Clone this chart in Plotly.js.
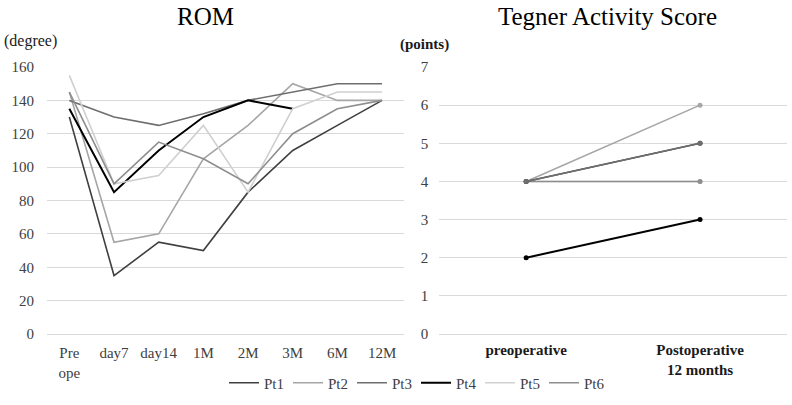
<!DOCTYPE html>
<html><head><meta charset="utf-8">
<script src="https://cdn.plot.ly/plotly-3.0.1.min.js"></script>
<style>html,body{margin:0;padding:0;background:#fff}#chart{width:792px;height:405px}</style>
</head><body><div id="chart"></div>
<script>
const romCategories = ['Pre<br>ope','day7','day14','1M','2M','3M','6M','12M'];
const patients = ['Pt1','Pt2','Pt3','Pt4','Pt5','Pt6'];
const romPt1 = [130, 35, 55, 50, 85, 110, 125, 140];
const romPt2 = [145, 55, 60, 105, 125, 150, 140, 140];
const romPt3 = [140, 130, 125, 132, 140, 145, 150, 150];
const romPt4 = [135, 85, 110, 130, 140, 135, null, null];
const romPt5 = [155, 90, 95, 125, 85, 135, 145, 145];
const romPt6 = [145, 90, 115, 105, 90, 120, 135, 140];
const tegnerCategories = ['preoperative', 'Postoperative<br>12 months'];
const tegPt1 = [4, 5];
const tegPt2 = [4, 6];
const tegPt3 = [4, 5];
const tegPt4 = [2, 3];
const tegPt5 = [4, 4];
const tegPt6 = [4, 4];

const colors = ['#404040','#a6a6a6','#6e6e6e','#000000','#d0d0d0','#8e8e8e'];
const widths = [1.6,1.6,1.6,2,1.6,1.6];
const romData = [romPt1, romPt2, romPt3, romPt4, romPt5, romPt6];
const tegData = [tegPt1, tegPt2, tegPt3, tegPt4, tegPt5, tegPt6];

const traces = [];
romData.forEach((ys, i) => {
  traces.push({x: romCategories, y: ys, type: 'scatter', mode: 'lines', name: patients[i],
    line: {color: colors[i], width: widths[i]}, xaxis: 'x', yaxis: 'y', connectgaps: false});
});
const tegOrder = [4, 5, 1, 0, 2, 3];
tegOrder.forEach(i => {
  traces.push({x: tegnerCategories, y: tegData[i], type: 'scatter', mode: 'lines+markers', name: patients[i],
    showlegend: false, line: {color: colors[i], width: widths[i]}, marker: {color: colors[i], size: 5},
    xaxis: 'x2', yaxis: 'y2'});
});

const F = 'Liberation Serif, Times New Roman, serif';
const GRID = '#d9d9d9';
const layout = {
  width: 792, height: 405,
  margin: {l: 47, r: 5, t: 67, b: 71, autoexpand: false},
  paper_bgcolor: '#fff', plot_bgcolor: '#fff',
  showlegend: true,
  font: {family: F, size: 15, color: '#404040'},
  xaxis: {domain: [0, 0.483], type: 'category', range: [-0.5, 7.5], showgrid: false, zeroline: false, showline: false,
    ticks: '', ticklabelstandoff: 8, tickfont: {family: F, size: 15, color: '#404040'}},
  yaxis: {range: [0, 160], dtick: 20, showgrid: true, gridcolor: GRID, gridwidth: 1, zeroline: true,
    zerolinecolor: GRID, zerolinewidth: 1,
    showline: false, ticks: '', ticklabelstandoff: 12, tickfont: {family: F, size: 15, color: '#404040'}},
  xaxis2: {domain: [0.530, 1], type: 'category', range: [-0.5, 1.5], anchor: 'y2', showgrid: false, zeroline: false, showline: false,
    ticks: '', ticklabelstandoff: 5, tickfont: {family: F, size: 15, color: '#1a1a1a', weight: 'bold'}},
  yaxis2: {range: [0, 7], dtick: 1, anchor: 'x2', showgrid: true, gridcolor: GRID, gridwidth: 1, zeroline: true,
    zerolinecolor: GRID, zerolinewidth: 1,
    showline: false, ticks: '', ticklabelstandoff: 10, tickfont: {family: F, size: 15, color: '#404040'}},
  legend: {orientation: 'h', xref: 'container', x: 416/792, xanchor: 'center', yref: 'container', y: (405-383)/405, yanchor: 'middle',
    bgcolor: 'rgba(0,0,0,0)',
    font: {family: F, size: 15, color: '#404040'}, itemwidth: 30, entrywidth: 19, entrywidthmode: 'pixels', tracegroupgap: 0},
  annotations: [
    {text: 'ROM', xref: 'paper', yref: 'paper', x: (205-47)/740, y: 1, yshift: 51, xanchor: 'center', yanchor: 'middle',
      showarrow: false, font: {family: F, size: 25, color: '#000'}},
    {text: 'Tegner Activity Score', xref: 'paper', yref: 'paper', x: (607-47)/740, y: 1, yshift: 51, xanchor: 'center', yanchor: 'middle',
      showarrow: false, font: {family: F, size: 25, color: '#000'}},
    {text: '(degree)', xref: 'paper', yref: 'paper', x: (2-47)/740, y: 1, yshift: 26, xanchor: 'left', yanchor: 'middle',
      showarrow: false, font: {family: F, size: 16, color: '#1a1a1a'}},
    {text: '<b>(points)</b>', xref: 'paper', yref: 'paper', x: (398-47)/740, y: 1, yshift: 23, xanchor: 'left', yanchor: 'middle',
      showarrow: false, font: {family: F, size: 15, color: '#1a1a1a'}}
  ]
};
Plotly.newPlot('chart', traces, layout, {displayModeBar: false, staticPlot: true});
</script></body></html>
